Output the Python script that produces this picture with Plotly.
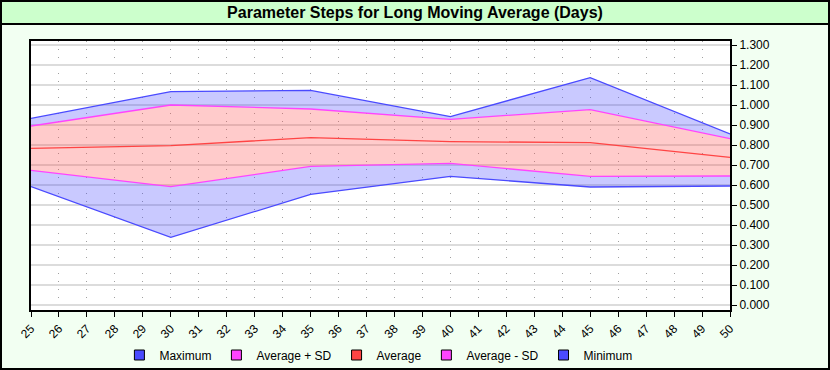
import plotly.graph_objects as go

days = [25, 30, 35, 40, 45, 50]
maximum = [0.933, 1.067, 1.073, 0.942, 1.137, 0.855]
avg_plus_sd = [0.895, 1.000, 0.980, 0.928, 0.977, 0.832]
average = [0.783, 0.797, 0.837, 0.817, 0.812, 0.738]
avg_minus_sd = [0.673, 0.592, 0.693, 0.708, 0.643, 0.645]
minimum = [0.592, 0.338, 0.553, 0.643, 0.590, 0.595]

x_ticks = list(range(25, 51))
y_ticks = [round(i * 0.1, 1) for i in range(14)]

W, H = 830, 370
ML, MR, MT, MB = 31, 100, 41, 60
PW, PH = W - ML - MR, H - MT - MB


def px(x):
    return (x - ML) / PW


def py(y):
    return (H - MB - y) / PH


BLUE_LINE = "#4a4aff"
MAG_LINE = "#ff44ff"
RED_LINE = "#ff4444"
BLUE_FILL = "rgba(60,60,255,0.28)"
PINK_FILL = "rgba(255,70,70,0.28)"

fig = go.Figure()
# Bands
fig.add_trace(go.Scatter(x=days, y=maximum, mode="lines", line=dict(width=0),
                         showlegend=False, hoverinfo="skip"))
fig.add_trace(go.Scatter(x=days, y=avg_plus_sd, mode="lines", line=dict(width=0),
                         fill="tonexty", fillcolor=BLUE_FILL, showlegend=False, hoverinfo="skip"))
fig.add_trace(go.Scatter(x=days, y=avg_minus_sd, mode="lines", line=dict(width=0),
                         fill="tonexty", fillcolor=PINK_FILL, showlegend=False, hoverinfo="skip"))
fig.add_trace(go.Scatter(x=days, y=minimum, mode="lines", line=dict(width=0),
                         fill="tonexty", fillcolor=BLUE_FILL, showlegend=False, hoverinfo="skip"))

series = [
    ("Maximum", maximum, BLUE_LINE),
    ("Average + SD", avg_plus_sd, MAG_LINE),
    ("Average", average, RED_LINE),
    ("Average - SD", avg_minus_sd, MAG_LINE),
    ("Minimum", minimum, BLUE_LINE),
]
for name, vals, col in series:
    fig.add_trace(go.Scatter(x=days, y=vals, mode="lines", line=dict(color=col, width=1.3),
                             name=name, showlegend=False))
for name, vals, col in series:
    fig.add_trace(go.Scatter(x=[None], y=[None], mode="markers", name=name,
                             marker=dict(symbol="square", size=10, color=col,
                                         line=dict(color="black", width=1))))

shapes = [
    dict(type="rect", xref="paper", yref="paper", x0=px(0), x1=px(W), y0=py(0), y1=py(24),
         fillcolor="#ccffcc", line=dict(width=0), layer="below"),
    dict(type="line", xref="paper", yref="paper", x0=px(0), x1=px(W), y0=py(24), y1=py(24),
         line=dict(color="black", width=2)),
    dict(type="rect", xref="paper", yref="paper", x0=px(1), x1=px(W - 1), y0=py(1), y1=py(H - 1),
         line=dict(color="black", width=2)),
]

fig.update_layout(
    width=W, height=H,
    margin=dict(l=ML, r=MR, t=MT, b=MB, pad=0, autoexpand=False),
    paper_bgcolor="#f2fff2",
    plot_bgcolor="white",
    font=dict(family="Liberation Sans, Arial, sans-serif", size=11, color="black"),
    title=dict(text="<b>Parameter Steps for Long Moving Average (Days)</b>",
               x=0.5, xref="container", xanchor="center",
               y=1 - 12 / H, yref="container", yanchor="middle",
               font=dict(size=16, family="Liberation Sans, Arial, sans-serif", color="black")),
    shapes=shapes,
    showlegend=True,
    legend=dict(orientation="h", x=0.497, xanchor="center", y=py(355), yanchor="middle",
                traceorder="normal", font=dict(size=12), bgcolor="rgba(0,0,0,0)",
                itemclick=False),
    xaxis=dict(range=[25, 50], tickmode="array", tickvals=x_ticks,
               ticktext=[str(v) for v in x_ticks], tickangle=-45, automargin=False,
               ticks="outside", ticklen=5, tickcolor="black",
               showline=True, linecolor="black", linewidth=2, mirror=True,
               showgrid=True, gridcolor="#a0a0a0", griddash="1px,7px", gridwidth=1,
               zeroline=False, tickfont=dict(size=12)),
    yaxis=dict(range=[-0.025, 1.32], side="right", tickmode="array", tickvals=y_ticks,
               ticktext=[f"{v:.3f}" for v in y_ticks], automargin=False,
               ticks="outside", ticklen=5, tickcolor="black",
               showline=True, linecolor="black", linewidth=2, mirror=True,
               showgrid=True, gridcolor="#dcdcdc", gridwidth=1.5,
               zeroline=False, tickfont=dict(size=12)),
)

fig.write_html("out.html", config={"displayModeBar": False},
               post_script="document.body.style.margin='0px';")
